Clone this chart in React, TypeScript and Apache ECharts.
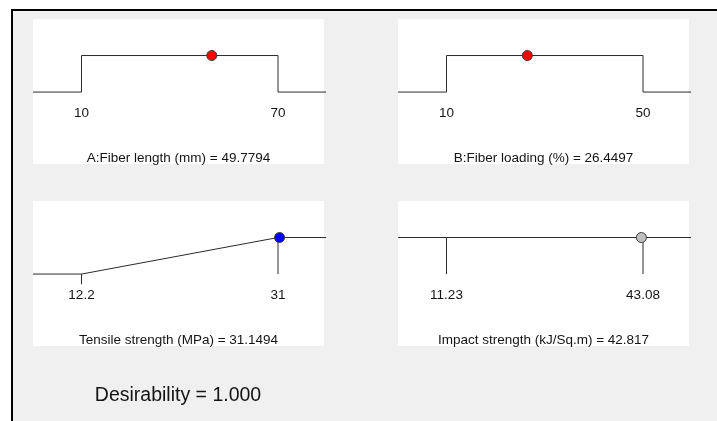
import React, { useEffect, useRef } from "react";
import * as echarts from "echarts";

// Factors (top row)
const factorNames = ["A:Fiber length (mm)", "B:Fiber loading (%)"];
const factorLow = [10, 10];
const factorHigh = [70, 50];
const factorValue = [49.7794, 26.4497];
const factorTickLabels = [["10", "70"], ["10", "50"]];
const factorColor = ["#ff0000", "#ff0000"];

// Responses (bottom row)
const responseNames = ["Tensile strength (MPa)", "Impact strength (kJ/Sq.m)"];
const responseLow = [12.2, 11.23];
const responseHigh = [31, 43.08];
const responseValue = [31.1494, 42.817];
const responseTickLabels = [["12.2", "31"], ["11.23", "43.08"]];
const responseColor = ["#0000ff", "#c0c0c0"];
// desirability level at low / high limits of each response curve
const responseDLow = [0, 1];
const responseDHigh = [1, 1];

const desirability = 1.0;

const FONT = '"Liberation Sans", Arial, sans-serif';
const TEXT = "#141414";
const LINE = "#2b2b2b";

export default function App() {
  const ref = useRef<HTMLDivElement>(null);
  useEffect(() => {
    if (!ref.current) return;
    const chart = echarts.init(ref.current, null, { renderer: "svg" });

    const panelLeft = [33, 398];
    const panelTop = [19, 201];
    const panelW = 291;
    const panelH = 145;
    const gridW = 293;
    const loPx = 48.5;
    const hiPx = 245;

    const grids: any[] = [];
    const xAxes: any[] = [];
    const yAxes: any[] = [];
    const series: any[] = [];
    const graphics: any[] = [
      { type: "rect", shape: { x: 0, y: 0, width: 717, height: 421 }, style: { fill: "#ffffff" }, silent: true },
      { type: "rect", shape: { x: 13, y: 11, width: 704, height: 410 }, style: { fill: "#f0f0f0" }, silent: true },
      { type: "rect", shape: { x: 11, y: 9, width: 706, height: 2 }, style: { fill: "#000000" }, silent: true },
      { type: "rect", shape: { x: 11, y: 9, width: 2, height: 412 }, style: { fill: "#000000" }, silent: true },
    ];

    const panels: any[] = [];
    for (let i = 0; i < 2; i++) {
      panels.push({
        row: 0, col: i,
        lo: factorLow[i], hi: factorHigh[i], value: factorValue[i],
        name: factorNames[i], labels: factorTickLabels[i], color: factorColor[i],
        kind: "factor",
      });
    }
    for (let i = 0; i < 2; i++) {
      panels.push({
        row: 1, col: i,
        lo: responseLow[i], hi: responseHigh[i], value: responseValue[i],
        name: responseNames[i], labels: responseTickLabels[i], color: responseColor[i],
        kind: "response", dLo: responseDLow[i], dHi: responseDHigh[i],
      });
    }

    panels.forEach((p, idx) => {
      const px = panelLeft[p.col];
      const py = panelTop[p.row];
      const per = (p.hi - p.lo) / (hiPx - loPx);
      const xmin = p.lo - loPx * per;
      const xmax = p.hi + (gridW - hiPx) * per;
      graphics.push({
        type: "rect", shape: { x: px, y: py, width: panelW, height: panelH },
        style: { fill: "#ffffff" }, silent: true,
      });
      graphics.push({
        type: "text", x: px + panelW / 2, y: py + 138, silent: true,
        style: {
          text: `${p.name} = ${p.value}`, font: `13.5px ${FONT}`, fill: TEXT,
          textAlign: "center", textVerticalAlign: "middle",
        },
      });
      grids.push({ left: px, top: py, width: gridW, height: panelH });
      xAxes.push({ type: "value", gridIndex: idx, min: xmin, max: xmax, show: false });
      yAxes.push({ type: "value", gridIndex: idx, min: -1.97, max: 2, show: false });

      let curve: number[][];
      if (p.kind === "factor") {
        curve = [[xmin, 0], [p.lo, 0], [p.lo, 1], [p.hi, 1], [p.hi, 0], [xmax, 0]];
      } else {
        curve = [[xmin, p.dLo], [p.lo, p.dLo], [p.hi, p.dHi], [xmax, p.dHi]];
      }
      const base = {
        xAxisIndex: idx, yAxisIndex: idx, silent: true, animation: false,
      };
      series.push({
        ...base, type: "line", data: curve, symbol: "none", clip: false,
        lineStyle: { color: LINE, width: 1 }, z: 2,
      });
      if (p.kind === "response") {
        const tickSegs = [
          p.dLo > 0 ? [[p.lo, p.dLo], [p.lo, 0]] : [[p.lo, 0], [p.lo, -0.28]],
          [[p.hi, p.dHi], [p.hi, 0]],
        ];
        tickSegs.forEach((seg) => {
          series.push({
            ...base, type: "line", data: seg, symbol: "none", clip: false,
            lineStyle: { color: LINE, width: 1 }, z: 2,
          });
        });
      }
      series.push({
        ...base, type: "scatter", symbolSize: 0, z: 3,
        data: [[p.lo, 0], [p.hi, 0]],
        itemStyle: { opacity: 1 },
        label: {
          show: true, position: "inside", offset: [0, 20],
          formatter: (d: any) => p.labels[d.dataIndex],
          color: TEXT, fontSize: 13.5, fontFamily: FONT, opacity: 1,
        },
      });
      series.push({
        ...base, type: "scatter", symbol: "circle", symbolSize: 10, z: 5,
        data: [[p.value, 1]],
        itemStyle: { color: p.color, borderColor: "#3a3a3a", borderWidth: 1, opacity: 1 },
      });
    });

    graphics.push({
      type: "text", x: 178, y: 394, silent: true,
      style: {
        text: `Desirability = ${desirability.toFixed(3)}`, font: `19.5px ${FONT}`, fill: TEXT,
        textAlign: "center", textVerticalAlign: "middle",
      },
    });

    chart.setOption({
      animation: false,
      graphic: { elements: graphics.map((g) => ({ ...g, z: -10 })) },
      grid: grids,
      xAxis: xAxes,
      yAxis: yAxes,
      series,
    });
    return () => chart.dispose();
  }, []);
  return (
    <div
      ref={ref}
      style={{ position: "fixed", left: 0, top: 0, width: 717, height: 421 }}
    />
  );
}
